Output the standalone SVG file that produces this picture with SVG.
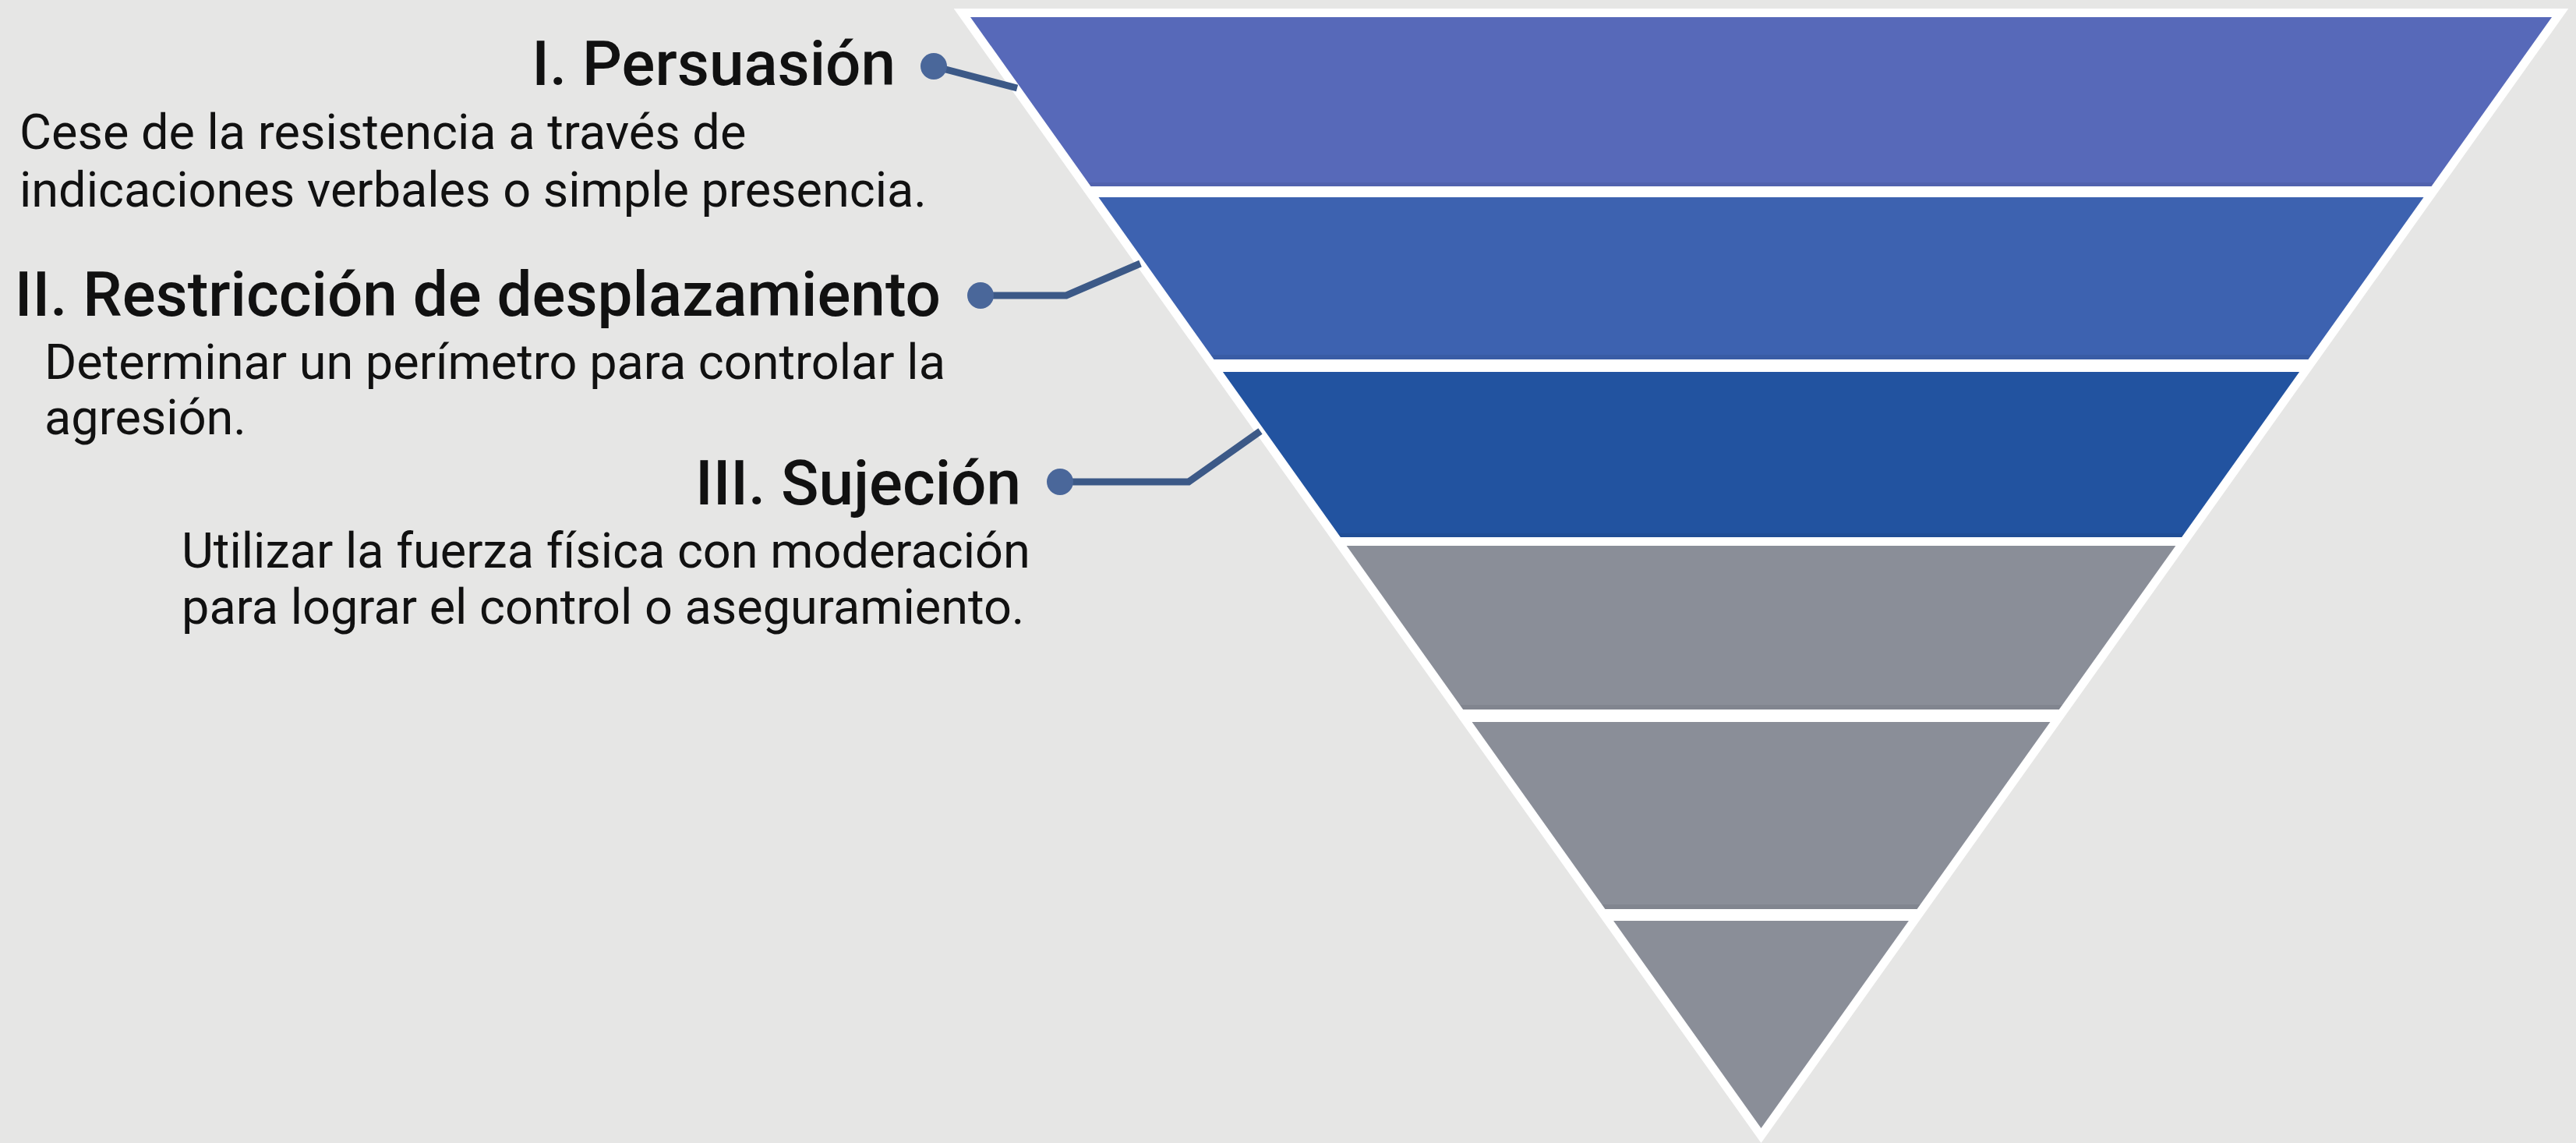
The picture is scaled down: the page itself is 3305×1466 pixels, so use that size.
<svg xmlns="http://www.w3.org/2000/svg" width="3305" height="1466" viewBox="0 0 3305 1466">
<defs>
<style>
.title{font-family:Roboto,"Liberation Sans",sans-serif;font-weight:500;font-size:80px;fill:#111111;text-anchor:end}
.body{font-family:Roboto,"Liberation Sans",sans-serif;font-weight:400;font-size:63px;fill:#111111}
.conn{fill:none;stroke:#3c5987;stroke-width:9;stroke-linejoin:miter}
.dot{fill:#4a679a}
.shade{fill:#000000;opacity:0.06}
</style>
<clipPath id="tri"><polygon points="1245,22 3274,22 2259.5,1447"/></clipPath>
</defs>
<rect x="0" y="0" width="3305" height="1466" fill="#e6e6e5"/>
<g id="funnel">
<polygon points="1245,22 3274,22 2259.5,1447" fill="#ffffff" stroke="#ffffff" stroke-width="22" stroke-linejoin="miter" stroke-miterlimit="10"/>
<g clip-path="url(#tri)">
<g id="band1"><rect x="1200" y="22" width="2100" height="217" fill="#5769b9"/><rect class="shade" x="1200" y="234" width="2100" height="5"/></g>
<g id="band2"><rect x="1200" y="253" width="2100" height="208" fill="#3d62b0"/><rect class="shade" x="1200" y="455" width="2100" height="6"/></g>
<g id="band3"><rect x="1200" y="477" width="2100" height="212" fill="#2253a0"/><rect class="shade" x="1200" y="684" width="2100" height="5"/></g>
<g id="band4"><rect x="1200" y="700" width="2100" height="210" fill="#8a8e98"/><rect class="shade" x="1200" y="904" width="2100" height="6"/></g>
<g id="band5"><rect x="1200" y="926" width="2100" height="240" fill="#8a8e98"/><rect class="shade" x="1200" y="1160" width="2100" height="6"/></g>
<g id="band6"><rect x="1200" y="1181" width="2100" height="280" fill="#8a8e98"/></g>
</g>
</g>
<g id="connectors">
<polyline class="conn" points="1198,85 1305,113"/>
<polyline class="conn" points="1258,379 1368,379 1463,338"/>
<polyline class="conn" points="1360,618 1525,618 1617,553"/>
<circle class="dot" cx="1198" cy="85" r="17"/>
<circle class="dot" cx="1258" cy="379" r="17"/>
<circle class="dot" cx="1360" cy="618" r="17"/>
</g>
<g id="label1">
<text class="title" x="1149" y="109">I. Persuasión</text>
<text class="body" x="25" y="191">Cese de la resistencia a través de</text>
<text class="body" x="25" y="265">indicaciones verbales o simple presencia.</text>
</g>
<g id="label2">
<text class="title" x="1207" y="405">II. Restricción de desplazamiento</text>
<text class="body" x="57" y="486">Determinar un perímetro para controlar la</text>
<text class="body" x="57" y="557">agresión.</text>
</g>
<g id="label3">
<text class="title" x="1310" y="647">III. Sujeción</text>
<text class="body" x="233" y="728">Utilizar la fuerza física con moderación</text>
<text class="body" x="233" y="800">para lograr el control o aseguramiento.</text>
</g>
</svg>
